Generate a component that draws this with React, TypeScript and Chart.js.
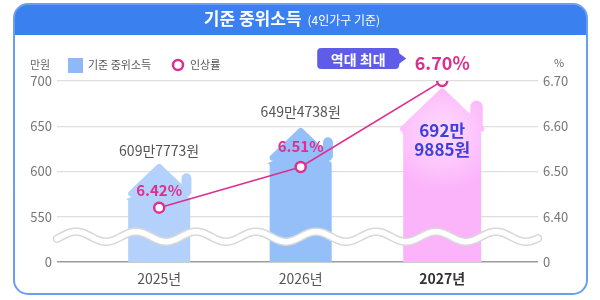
import React, { useEffect, useRef } from "react";
import { Chart, registerables } from "chart.js";

Chart.register(...registerables);

// ---------- data ----------
const categories = ["2025년", "2026년", "2027년"];
const incomeWon = [6097773, 6494738, 6929885]; // 기준 중위소득 (원)
const incomeManwon = incomeWon.map((w) => w / 10000);
const raiseRates = [6.42, 6.51, 6.7]; // 인상률 (%)
const leftTickValues = [500, 550, 600, 650, 700]; // broken axis: 500 shown as "0"
const leftTickLabels = ["0", "550", "600", "650", "700"];
const rightTickValues = [6.3, 6.4, 6.5, 6.6, 6.7]; // broken axis: 6.3 shown as "0"
const rightTickLabels = ["0", "6.40", "6.50", "6.60", "6.70"];
const axisBreakBase = 500;
const titleMain = "기준 중위소득";
const titleSub = "(4인가구 기준)";
const barLegend = "기준 중위소득";
const lineLegend = "인상률";
const leftUnit = "만원";
const rightUnit = "%";
const badgeText = "역대 최대";

// ---------- styles ----------
const F = "'Noto Sans CJK KR', 'Noto Sans', sans-serif";
const PINK = "#de2f8f";
const HEADER = "#3a80ef";
const FRAME = "#6a9ff0";
const barColors = ["#b3d1fa", "#95bff9", "#fbb3fa"];
const barWidths = [62, 62, 78];
const wonLabel = (w: number) => `${Math.floor(w / 10000)}만${w % 10000}원`;

function roundedPoly(ctx: CanvasRenderingContext2D, pts: number[][]) {
  const n = pts.length;
  const a = pts[n - 1];
  const b = pts[0];
  ctx.moveTo((a[0] + b[0]) / 2, (a[1] + b[1]) / 2);
  for (let i = 0; i < n; i++) {
    const p = pts[i];
    const q = pts[(i + 1) % n];
    if (p[2] > 0) ctx.arcTo(p[0], p[1], q[0], q[1], p[2]);
    else ctx.lineTo(p[0], p[1]);
  }
  ctx.closePath();
}

function drawHouse(
  ctx: CanvasRenderingContext2D,
  cx: number,
  top: number,
  base: number,
  W: number,
  fill: string | CanvasGradient
) {
  const rh = 0.69 * W;
  const rH = 0.66 * W;
  const d = 0.45 * (rh - W / 2);
  const tipY = top + rH;
  ctx.fillStyle = fill;
  // chimney
  const cx0 = cx + 0.36 * W;
  const cx1 = cx + 0.52 * W;
  const ct = top + 0.17 * W;
  const cr = (cx1 - cx0) / 2;
  ctx.beginPath();
  ctx.moveTo(cx0, top + 0.5 * W);
  ctx.lineTo(cx0, ct + cr);
  ctx.arc(cx0 + cr, ct + cr, cr, Math.PI, 0);
  ctx.lineTo(cx1, top + 0.5 * W);
  ctx.closePath();
  ctx.fill();
  // roof + body
  ctx.beginPath();
  roundedPoly(ctx, [
    [cx, top, 3],
    [cx + rh, tipY, 3],
    [cx + W / 2, tipY - d, 2],
    [cx + W / 2, base, 0],
    [cx - W / 2, base, 0],
    [cx - W / 2, tipY - d, 2],
    [cx - rh, tipY, 3],
  ]);
  ctx.fill();
}

function roundRectPath(ctx: CanvasRenderingContext2D, x: number, y: number, w: number, h: number, r: number) {
  ctx.beginPath();
  ctx.moveTo(x + r, y);
  ctx.arcTo(x + w, y, x + w, y + h, r);
  ctx.arcTo(x + w, y + h, x, y + h, r);
  ctx.arcTo(x, y + h, x, y, r);
  ctx.arcTo(x, y, x + w, y, r);
  ctx.closePath();
}

const decor = {
  id: "decor",
  beforeDraw(chart: any) {
    const ctx: CanvasRenderingContext2D = chart.ctx;
    ctx.save();
    // frame
    const fx = 14, fy = 4, fw = 573, fh = 290;
    roundRectPath(ctx, fx, fy, fw, fh, 14);
    ctx.fillStyle = "#fff";
    ctx.fill();
    ctx.save();
    ctx.clip();
    ctx.fillStyle = HEADER;
    ctx.fillRect(fx, fy, fw, 31);
    ctx.restore();
    roundRectPath(ctx, fx, fy, fw, fh, 14);
    ctx.strokeStyle = FRAME;
    ctx.lineWidth = 2;
    ctx.stroke();
    // title
    ctx.fillStyle = "#fff";
    ctx.textBaseline = "middle";
    ctx.textAlign = "left";
    ctx.font = `bold 17px ${F}`;
    const w1 = ctx.measureText(titleMain).width;
    ctx.font = `12px ${F}`;
    const w2 = ctx.measureText(titleSub).width;
    const gap = 6;
    const sx = 292 - (w1 + gap + w2) / 2;
    ctx.font = `bold 17px ${F}`;
    ctx.fillText(titleMain, sx, 19);
    ctx.font = `12px ${F}`;
    ctx.fillText(titleSub, sx + w1 + gap, 20);
    // legend & units
    ctx.fillStyle = "#666";
    ctx.font = `11px ${F}`;
    ctx.textAlign = "center";
    ctx.fillText(leftUnit, 40, 65);
    ctx.fillText(rightUnit, 559, 63);
    ctx.fillStyle = "#8fb9f6";
    ctx.fillRect(68, 58, 15, 15);
    ctx.fillStyle = "#555";
    ctx.textAlign = "left";
    ctx.fillText(barLegend, 88, 65);
    ctx.beginPath();
    ctx.arc(178, 65, 5, 0, Math.PI * 2);
    ctx.strokeStyle = PINK;
    ctx.lineWidth = 2.5;
    ctx.stroke();
    ctx.fillText(lineLegend, 190, 65);
    ctx.restore();
  },
  beforeDatasetsDraw(chart: any) {
    const ctx: CanvasRenderingContext2D = chart.ctx;
    const area = chart.chartArea;
    const meta = chart.getDatasetMeta(1);
    ctx.save();
    meta.data.forEach((el: any, i: number) => {
      const p = el.getProps(["x", "y", "base"], true);
      const W = barWidths[i];
      let fill: string | CanvasGradient = barColors[i];
      if (i === 2) {
        const g = ctx.createRadialGradient(p.x, p.y + 0.6 * W, 0, p.x, p.y + 0.6 * W, 0.75 * W);
        g.addColorStop(0, "#ffdcfe");
        g.addColorStop(1, barColors[i]);
        fill = g;
      }
      drawHouse(ctx, p.x, p.y, p.base, W, fill);
    });
    // wave (axis break)
    const yc = chart.scales.y.getPixelForValue(528);
    ctx.beginPath();
    for (let x = area.left; x <= area.right; x += 1) {
      const y = yc + 5 * Math.cos((2 * Math.PI * (x - 406)) / 60);
      if (x === area.left) ctx.moveTo(x, y);
      else ctx.lineTo(x, y);
    }
    ctx.lineCap = "round";
    ctx.strokeStyle = "#d8d8d8";
    ctx.lineWidth = 8.5;
    ctx.stroke();
    ctx.strokeStyle = "#fff";
    ctx.lineWidth = 5.5;
    ctx.stroke();
    ctx.restore();
  },
  afterDatasetsDraw(chart: any) {
    const ctx: CanvasRenderingContext2D = chart.ctx;
    const bars = chart.getDatasetMeta(1).data;
    const pts = chart.getDatasetMeta(0).data;
    ctx.save();
    ctx.textAlign = "center";
    ctx.textBaseline = "middle";
    bars.forEach((el: any, i: number) => {
      const p = el.getProps(["x", "y"], true);
      if (i < 2) {
        ctx.fillStyle = "#555";
        ctx.font = `14px ${F}`;
        ctx.fillText(wonLabel(incomeWon[i]), p.x, p.y - (i === 0 ? 12 : 15));
      } else {
        ctx.fillStyle = "#3c3fd9";
        ctx.font = `bold 17px ${F}`;
        const w = incomeWon[i];
        ctx.fillText(`${Math.floor(w / 10000)}만`, p.x, p.y + 43);
        ctx.fillText(`${w % 10000}원`, p.x, p.y + 62);
      }
    });
    pts.forEach((el: any, i: number) => {
      const p = el.getProps(["x", "y"], true);
      ctx.fillStyle = PINK;
      if (i < 2) {
        ctx.font = `bold 15px ${F}`;
        ctx.fillText(`${raiseRates[i].toFixed(2)}%`, p.x, p.y - (i === 0 ? 17 : 21));
      } else {
        ctx.font = `bold 18px ${F}`;
        ctx.fillText(`${raiseRates[i].toFixed(2)}%`, p.x, p.y - 18);
        // badge
        const bx1 = p.x - 43;
        const bx0 = bx1 - 82;
        const by0 = p.y - 33;
        const by1 = p.y - 12;
        ctx.fillStyle = "#5f5cea";
        roundRectPath(ctx, bx0, by0, bx1 - bx0, by1 - by0, 4);
        ctx.fill();
        ctx.beginPath();
        ctx.moveTo(bx1 - 1, (by0 + by1) / 2 - 6);
        ctx.lineTo(bx1 + 7, (by0 + by1) / 2);
        ctx.lineTo(bx1 - 1, (by0 + by1) / 2 + 6);
        ctx.closePath();
        ctx.fill();
        ctx.fillStyle = "#fff";
        ctx.font = `bold 14px ${F}`;
        ctx.fillText(badgeText, (bx0 + bx1) / 2, (by0 + by1) / 2 + 1);
      }
    });
    ctx.restore();
  },
};

export default function App() {
  const ref = useRef<HTMLCanvasElement | null>(null);
  useEffect(() => {
    if (!ref.current) return;
    const chart = new Chart(ref.current, {
      type: "bar",
      data: {
        datasets: [
          {
            type: "line",
            label: lineLegend,
            data: raiseRates.map((v, i) => ({ x: i, y: v })),
            yAxisID: "y2",
            xAxisID: "x",
            borderColor: PINK,
            borderWidth: 1.5,
            pointRadius: 5,
            pointBorderWidth: 2.5,
            pointBackgroundColor: "#fff",
            pointBorderColor: PINK,
            order: 0,
          } as any,
          {
            type: "bar",
            label: barLegend,
            data: incomeManwon.map((v, i) => ({ x: i, y: [axisBreakBase, v] })),
            yAxisID: "y",
            xAxisID: "x",
            backgroundColor: "rgba(0,0,0,0)",
            barThickness: 62,
            order: 1,
          } as any,
        ],
      },
      options: {
        animation: false,
        responsive: false,
        events: [],
        layout: { padding: { top: 81, left: 0, right: 0, bottom: 0 } },
        plugins: { legend: { display: false }, tooltip: { enabled: false }, title: { display: false } },
        scales: {
          x: {
            type: "linear",
            position: "bottom",
            min: -0.722,
            max: 2.677,
            offset: false,
            grid: { display: false, drawTicks: false },
            border: { display: false },
            afterBuildTicks: (s: any) => {
              s.ticks = categories.map((_, i) => ({ value: i }));
            },
            afterFit: (s: any) => {
              s.height = 38;
            },
            ticks: {
              autoSkip: false,
              maxRotation: 0,
              padding: 8,
              callback: (v: any) => categories[Math.round(Number(v))],
              color: (c: any) => (c.index === 2 ? "#333" : "#555"),
              font: (c: any) => ({ family: F, size: 14, weight: c.index === 2 ? "bold" : "normal" }),
            },
          },
          y: {
            type: "linear",
            position: "left",
            min: 500,
            max: 700,
            afterBuildTicks: (s: any) => {
              s.ticks = leftTickValues.map((v) => ({ value: v }));
            },
            afterFit: (s: any) => {
              s.width = 57;
            },
            grid: {
              drawTicks: false,
              color: (c: any) => (c.tick && c.tick.value === 500 ? "#9c9c9c" : "#dedede"),
              lineWidth: (c: any) => (c.tick && c.tick.value === 500 ? 1.5 : 1.3),
            },
            border: { display: false },
            ticks: {
              padding: 5,
              color: "#777",
              font: { family: F, size: 13 },
              callback: (_v: any, i: number) => leftTickLabels[i],
            },
          },
          y2: {
            type: "linear",
            position: "right",
            min: 6.3,
            max: 6.7,
            afterBuildTicks: (s: any) => {
              s.ticks = rightTickValues.map((v) => ({ value: v }));
            },
            afterFit: (s: any) => {
              s.width = 62;
            },
            grid: { display: false, drawTicks: false },
            border: { display: false },
            ticks: {
              padding: 5,
              color: "#777",
              font: { family: F, size: 13 },
              callback: (_v: any, i: number) => rightTickLabels[i],
            },
          },
        },
      } as any,
      plugins: [decor],
    });
    return () => chart.destroy();
  }, []);
  return (
    <div style={{ position: "absolute", left: 0, top: 0, width: 600, height: 300, background: "#fff" }}>
      <canvas ref={ref} width={600} height={300} style={{ display: "block" }} />
    </div>
  );
}
